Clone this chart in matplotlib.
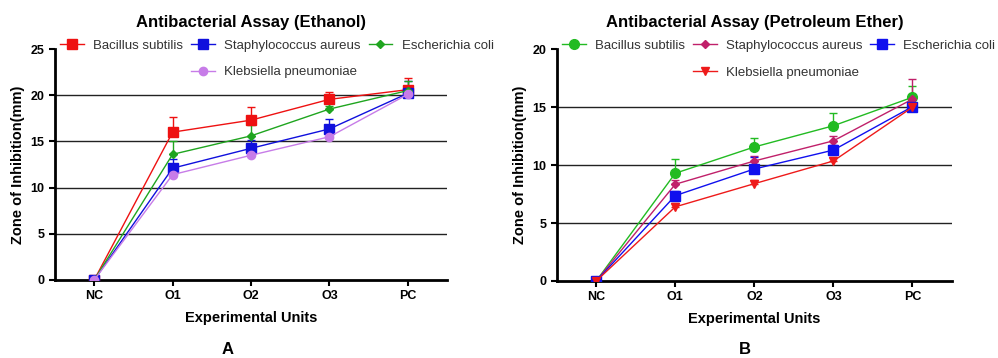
import numpy as np
import matplotlib
matplotlib.use('Agg')
import matplotlib.pyplot as plt
from matplotlib.lines import Line2D

plt.rcParams['font.family'] = ['Liberation Sans', 'DejaVu Sans']

units = ['NC', 'O1', 'O2', 'O3', 'PC']
names = ['Bacillus subtilis', 'Staphylococcus aureus', 'Escherichia coli', 'Klebsiella pneumoniae']

# panel A - ethanol extract (mean, upper error)
eth_bacillus = [0, 16.0, 17.3, 19.55, 20.6]
eth_bacillus_err = [0, 1.6, 1.4, 0.85, 1.3]
eth_staph = [0, 12.1, 14.25, 16.35, 20.2]
eth_staph_err = [0, 0.95, 0.95, 1.05, 1.3]
eth_ecoli = [0, 13.6, 15.6, 18.5, 20.5]
eth_ecoli_err = [0, 1.4, 1.2, 0.3, 1.0]
eth_kleb = [0, 11.4, 13.5, 15.5, 20.1]
eth_kleb_err = [0, 0.3, 0.3, 0.3, 0.3]

# panel B - petroleum ether extract
pe_bacillus = [0, 9.3, 11.57, 13.4, 15.86]
pe_bacillus_err = [0, 1.2, 0.75, 1.1, 0.95]
pe_staph = [0, 8.35, 10.36, 12.1, 15.7]
pe_staph_err = [0, 0.4, 0.45, 0.45, 1.7]
pe_ecoli = [0, 7.37, 9.67, 11.3, 15.05]
pe_ecoli_err = [0, 0.4, 1.0, 0.4, 0.3]
pe_kleb = [0, 6.4, 8.4, 10.36, 15.0]
pe_kleb_err = [0, 0.3, 0.3, 0.3, 0.3]

fig = plt.figure(figsize=(9.98, 3.58), dpi=100)
axA = fig.add_axes([0.0551, 0.2179, 0.3928, 0.6452])
axB = fig.add_axes([0.5578, 0.2151, 0.3961, 0.6472])

x = np.arange(len(units))


def draw(ax, series, ymax, title):
    handles = []
    for vals, err, col, mk, ms in series:
        ax.errorbar(x, vals, yerr=[np.zeros(len(err)), err], color=col, marker=mk,
                    markersize=ms, lw=1, elinewidth=1, capsize=3, capthick=1, zorder=3)
        handles.append(Line2D([], [], color=col, marker=mk, markersize=ms, lw=1))
    ax.set_xlim(-0.5, 4.5)
    ax.set_ylim(0, ymax)
    ticks = np.arange(0, ymax + 1, 5)
    ax.set_yticks(ticks)
    for t in ticks[1:-1]:
        ax.axhline(t, color='#222222', lw=1, zorder=1)
    ax.set_xticks(x)
    ax.set_xticklabels(units, fontweight='bold', fontsize=9)
    for lb in ax.get_yticklabels():
        lb.set_fontweight('bold')
        lb.set_fontsize(9)
    ax.spines['top'].set_visible(False)
    ax.spines['right'].set_visible(False)
    ax.spines['left'].set_linewidth(2)
    ax.spines['bottom'].set_linewidth(2)
    ax.tick_params(width=1.5, length=4)
    ax.set_xlabel('Experimental Units', fontweight='bold', fontsize=10.5, labelpad=6)
    ax.set_ylabel('Zone of Inhibition(mm)', fontweight='bold', fontsize=10.5, labelpad=4)
    ax.set_title(title, fontweight='bold', fontsize=12, pad=16)
    blank = Line2D([], [], color='none')
    hs = [handles[0], blank, handles[1], handles[3], handles[2], blank]
    ls = [names[0], '', names[1], names[3], names[2], '']
    ax.legend(hs, ls, ncol=3, loc='upper left', bbox_to_anchor=(0.0, 1.065), frameon=False,
              fontsize=9.5, labelcolor='#333333', handlelength=1.8, handletextpad=0.7,
              columnspacing=0.6, labelspacing=1.1, borderaxespad=0)


draw(axA, [
    (eth_bacillus, eth_bacillus_err, '#ee1111', 's', 7),
    (eth_staph, eth_staph_err, '#1010dd', 's', 7),
    (eth_ecoli, eth_ecoli_err, '#1fa51f', 'D', 4),
    (eth_kleb, eth_kleb_err, '#c77ce8', 'o', 6),
], 25, 'Antibacterial Assay (Ethanol)')

draw(axB, [
    (pe_bacillus, pe_bacillus_err, '#22bb22', 'o', 7),
    (pe_staph, pe_staph_err, '#c0206a', 'D', 4.5),
    (pe_ecoli, pe_ecoli_err, '#1010ee', 's', 7),
    (pe_kleb, pe_kleb_err, '#ee1a1a', 'v', 6),
], 20, 'Antibacterial Assay (Petroleum Ether)')

fig.text(228 / 998, 1 - 350 / 358, 'A', fontweight='bold', fontsize=12, ha='center', va='center')
fig.text(745 / 998, 1 - 350 / 358, 'B', fontweight='bold', fontsize=12, ha='center', va='center')

fig.savefig('out.png', dpi=100)
